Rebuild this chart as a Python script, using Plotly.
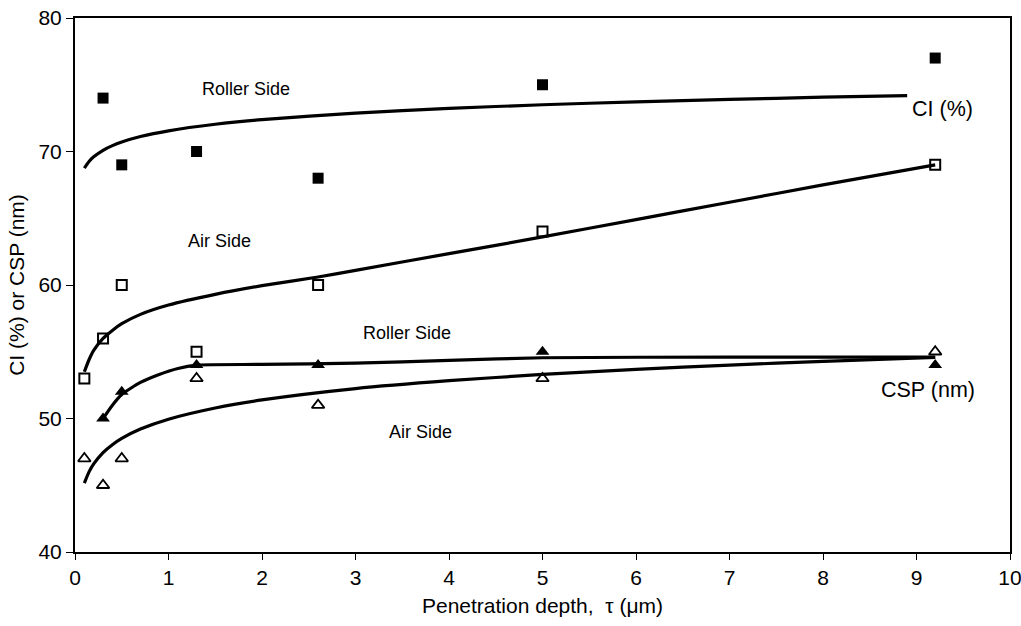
import plotly.graph_objects as go

# ---- measured points ----
depth_ci_roller = [0.3, 0.5, 1.3, 2.6, 5.0, 9.2]
ci_roller = [74, 69, 70, 68, 75, 77]

depth_ci_air = [0.1, 0.3, 0.5, 1.3, 2.6, 5.0, 9.2]
ci_air = [53, 56, 60, 55, 60, 64, 69]

depth_csp_roller = [0.3, 0.5, 1.3, 2.6, 5.0, 9.2]
csp_roller = [50, 52, 54, 54, 55, 54]

depth_csp_air = [0.1, 0.3, 0.5, 1.3, 2.6, 5.0, 9.2]
csp_air = [47, 45, 47, 53, 51, 53, 55]

# ---- trend curves ----
curve_ci_roller_x = [0.1, 0.15, 0.2, 0.3, 0.4, 0.5, 0.7, 1.0, 1.5, 2.0, 3.0, 4.0, 5.0, 6.0, 7.0, 8.0, 8.9]
curve_ci_roller_y = [68.76, 69.25, 69.6, 70.09, 70.44, 70.71, 71.12, 71.55, 72.04, 72.39, 72.88, 73.23, 73.5, 73.72, 73.9, 74.07, 74.19]

curve_ci_air_x = [0.1, 0.15, 0.2, 0.3, 0.4, 0.5, 0.7, 1.0, 1.5, 2.0, 2.6, 3.0, 4.0, 5.0, 6.0, 7.0, 8.0, 9.2]
curve_ci_air_y = [53.5, 54.4, 55.1, 56.0, 56.6, 57.1, 57.8, 58.5, 59.3, 59.95, 60.6, 61.1, 62.35, 63.6, 64.9, 66.2, 67.5, 69.0]

curve_csp_roller_x = [0.3, 0.4, 0.5, 0.7, 0.9, 1.1, 1.3, 2.0, 3.0, 4.0, 5.0, 7.0, 9.2]
curve_csp_roller_y = [50.0, 51.0, 51.8, 52.7, 53.3, 53.75, 54.0, 54.05, 54.15, 54.35, 54.55, 54.6, 54.6]

curve_csp_air_x = [0.1, 0.15, 0.2, 0.3, 0.4, 0.5, 0.7, 1.0, 1.5, 2.0, 3.0, 4.0, 5.0, 6.0, 7.0, 8.0, 9.2]
curve_csp_air_y = [45.16, 46.0, 46.6, 47.45, 48.04, 48.51, 49.21, 49.95, 50.79, 51.39, 52.24, 52.83, 53.3, 53.68, 54.0, 54.28, 54.57]

# ---- labels ----
label_text = ["Roller Side", "Air Side", "Roller Side", "Air Side"]
label_x = [1.83, 1.55, 3.55, 3.70]
label_y = [74.68, 63.32, 56.43, 49.0]

FONT = "Liberation Sans, Arial, sans-serif"

fig = go.Figure()

line_style = dict(color="black", width=3.2, shape="spline", smoothing=0.6)
for cx, cy in [(curve_ci_roller_x, curve_ci_roller_y),
               (curve_ci_air_x, curve_ci_air_y),
               (curve_csp_roller_x, curve_csp_roller_y),
               (curve_csp_air_x, curve_csp_air_y)]:
    fig.add_trace(go.Scatter(x=cx, y=cy, mode="lines", line=line_style,
                             showlegend=False, hoverinfo="skip"))

fig.add_trace(go.Scatter(x=depth_ci_roller, y=ci_roller, mode="markers",
                         marker=dict(symbol="square", size=11, color="black"),
                         name="CI Roller Side", showlegend=False))
fig.add_trace(go.Scatter(x=depth_ci_air, y=ci_air, mode="markers",
                         marker=dict(symbol="square-open", size=10, color="black",
                                     line=dict(width=2, color="black")),
                         name="CI Air Side", showlegend=False))
fig.add_trace(go.Scatter(x=depth_csp_roller, y=csp_roller, mode="markers",
                         marker=dict(symbol="triangle-up", size=12, color="black"),
                         name="CSP Roller Side", showlegend=False))
fig.add_trace(go.Scatter(x=depth_csp_air, y=csp_air, mode="markers",
                         marker=dict(symbol="triangle-up-open", size=11, color="black",
                                     line=dict(width=1.8, color="black")),
                         name="CSP Air Side", showlegend=False))

for t, x, y in zip(label_text, label_x, label_y):
    fig.add_annotation(x=x, y=y, text=t, showarrow=False,
                       font=dict(family=FONT, size=18, color="black"))

fig.add_annotation(x=9.28, y=73.16, text="CI (%)", showarrow=False,
                   font=dict(family=FONT, size=21.5, color="black"))
fig.add_annotation(x=9.12, y=52.13, text="CSP (nm)", showarrow=False,
                   font=dict(family=FONT, size=21.5, color="black"))

fig.update_layout(
    width=1021, height=626,
    margin=dict(l=75, r=11, t=18, b=74),
    paper_bgcolor="white", plot_bgcolor="white",
    font=dict(family=FONT, color="black"),
    xaxis=dict(range=[0, 10], dtick=1, tick0=0, showgrid=False, zeroline=False,
               automargin=False, ticklabeloverflow="allow",
               showline=True, linecolor="black", linewidth=2, mirror=True,
               ticks="outside", ticklen=6, tickcolor="black", tickwidth=1,
               tickfont=dict(family=FONT, size=21),
               title=dict(text="Penetration depth,  \u03c4 (\u03bcm)",
                          font=dict(family=FONT, size=21), standoff=10)),
    yaxis=dict(range=[40, 80], dtick=10, showgrid=False, zeroline=False,
               automargin=False, ticklabeloverflow="allow",
               showline=True, linecolor="black", linewidth=2, mirror=True,
               ticks="outside", ticklen=7, tickcolor="black", tickwidth=1,
               tickfont=dict(family=FONT, size=21),
               title=dict(text="CI (%) or CSP (nm)",
                          font=dict(family=FONT, size=21), standoff=8)),
)

fig.write_html("out.html")
